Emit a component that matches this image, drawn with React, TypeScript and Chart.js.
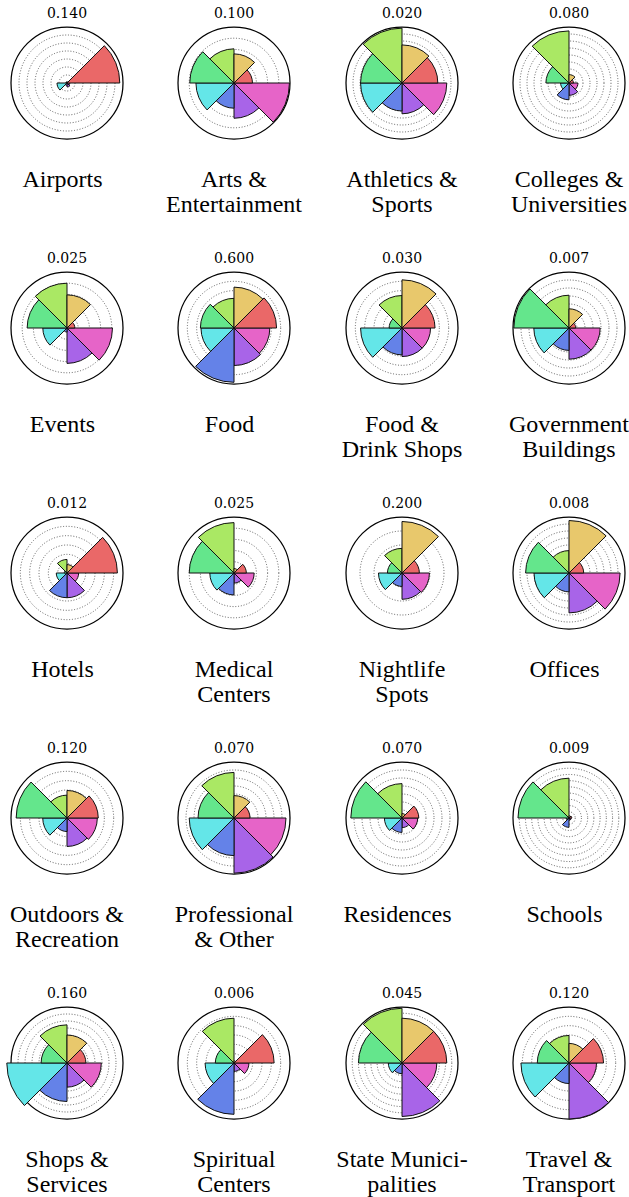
import React, { useEffect, useRef } from 'react';
import { Chart, registerables } from 'chart.js';

Chart.register(...registerables);

// Eight 45° sectors, counter-clockwise from east
const SECTORS = ['0°–45°', '45°–90°', '90°–135°', '135°–180°', '180°–225°', '225°–270°', '270°–315°', '315°–360°'];

const CATEGORY_LABELS: string[][] = [
  ['Airports'], ['Arts &', 'Entertainment'], ['Athletics &', 'Sports'], ['Colleges &', 'Universities'],
  ['Events'], ['Food'], ['Food &', 'Drink Shops'], ['Government', 'Buildings'],
  ['Hotels'], ['Medical', 'Centers'], ['Nightlife', 'Spots'], ['Offices'],
  ['Outdoors &', 'Recreation'], ['Professional', '& Other'], ['Residences'], ['Schools'],
  ['Shops &', 'Services'], ['Spiritual', 'Centers'], ['State Munici-', 'palities'], ['Travel &', 'Transport'],
];

const MAX_VALUES = [
  0.14, 0.1, 0.02, 0.08,
  0.025, 0.6, 0.03, 0.007,
  0.012, 0.025, 0.2, 0.008,
  0.12, 0.07, 0.07, 0.009,
  0.16, 0.006, 0.045, 0.12,
];

const STEP_SIZES = [
  0.02, 0.02, 0.0025, 0.01,
  0.005, 0.1, 0.005, 0.001,
  0.002, 0.005, 0.05, 0.001,
  0.02, 0.01, 0.01, 0.001,
  0.02, 0.001, 0.005, 0.02,
];

// values per sector (same order as SECTORS)
const airports = [0.132, 0.003, 0.003, 0.003, 0.025, 0.006, 0.010, 0.007];
const arts = [0.033, 0.052, 0.061, 0.079, 0.068, 0.045, 0.063, 0.099];
const athletics = [0.0128, 0.0136, 0.0196, 0.0148, 0.0148, 0.010, 0.011, 0.016];
const colleges = [0.0064, 0.012, 0.0744, 0.033, 0.012, 0.024, 0.0176, 0.0128];
const events = [0.0035, 0.0148, 0.020, 0.0178, 0.0108, 0.0018, 0.0158, 0.0203];
const food = [0.456, 0.438, 0.318, 0.36, 0.354, 0.582, 0.402, 0.384];
const foodDrink = [0.0177, 0.0258, 0.0174, 0.0069, 0.0222, 0.0144, 0.0153, 0.0153];
const government = [0.00084, 0.0024, 0.0041, 0.0069, 0.0044, 0.0028, 0.0039, 0.0039];
const hotels = [0.0108, 0.0018, 0.0029, 0.0006, 0.0023, 0.0053, 0.0053, 0.0025];
const medical = [0.0055, 0.002, 0.0225, 0.020, 0.0108, 0.0098, 0.0045, 0.009];
const nightlife = [0.062, 0.184, 0.088, 0.052, 0.084, 0.048, 0.094, 0.098];
const offices = [0.0021, 0.0075, 0.0032, 0.0062, 0.005, 0.0027, 0.0057, 0.0073];
const outdoors = [0.067, 0.059, 0.049, 0.109, 0.052, 0.029, 0.061, 0.065];
const professional = [0.020, 0.028, 0.057, 0.045, 0.056, 0.047, 0.069, 0.065];
const residences = [0.021, 0.0056, 0.043, 0.064, 0.022, 0.018, 0.012, 0.0196];
const schools = [0.00045, 0.00036, 0.0064, 0.0082, 0.00045, 0.0015, 0.00036, 0.00036];
const shops = [0.054, 0.080, 0.109, 0.074, 0.172, 0.110, 0.069, 0.098];
const spiritual = [0.0043, 0.00024, 0.0048, 0.002, 0.0031, 0.0055, 0.0009, 0.0016];
const stateMunicipalities = [0.036, 0.036, 0.044, 0.035, 0.011, 0.0086, 0.043, 0.028];
const travel = [0.074, 0.042, 0.059, 0.068, 0.103, 0.044, 0.12, 0.059];

const SERIES = [
  airports, arts, athletics, colleges,
  events, food, foodDrink, government,
  hotels, medical, nightlife, offices,
  outdoors, professional, residences, schools,
  shops, spiritual, stateMunicipalities, travel,
];

const SECTOR_COLORS = ['#EA6868', '#E8C86C', '#AAE864', '#64E68C', '#64E6E8', '#6482E8', '#A864E8', '#E664C8'];

const COL_X = [67, 234, 402, 569];
const ROW_Y = [83, 328, 573, 818, 1063];
const CANVAS = 140;
const PAD = 14;

function PolarCell({ idx }: { idx: number }) {
  const ref = useRef<HTMLCanvasElement | null>(null);
  const max = MAX_VALUES[idx];
  const step = STEP_SIZES[idx];
  useEffect(() => {
    if (!ref.current) return;
    const values = SERIES[idx];
    // Chart.js draws clockwise; start at east and reverse the CCW order
    const data = values.slice().reverse();
    const labels = SECTORS.slice().reverse();
    const colors = SECTOR_COLORS.slice().reverse();
    const isOuter = (c: any) => c.tick && Math.abs(c.tick.value - max) < max * 1e-6;
    const chart = new Chart(ref.current, {
      type: 'polarArea',
      data: {
        labels,
        datasets: [{
          data,
          backgroundColor: colors,
          borderColor: '#111',
          borderWidth: 1,
          clip: false,
        } as any],
      },
      options: {
        animation: false,
        responsive: false,
        layout: { padding: PAD },
        plugins: { legend: { display: false }, tooltip: { enabled: false }, title: { display: false } },
        scales: {
          r: {
            min: 0,
            max,
            startAngle: 90,
            z: 1,
            ticks: { display: false, stepSize: step },
            pointLabels: { display: false },
            angleLines: { display: false },
            grid: {
              circular: true,
              color: (c: any) => (isOuter(c) ? '#000' : 'rgba(50,50,50,0.85)'),
              lineWidth: (c: any) => (isOuter(c) ? 1.25 : 0.9),
            },
            border: { dash: (c: any) => (isOuter(c) ? [] : [1, 1.8]) } as any,
          } as any,
        },
      } as any,
    });
    return () => chart.destroy();
  }, [idx]);

  const cx = COL_X[idx % 4];
  const cy = ROW_Y[Math.floor(idx / 4)];
  const lines = CATEGORY_LABELS[idx];
  const single = lines.length === 1;
  return (
    <>
      <div
        style={{
          position: 'absolute', left: cx - 60, width: 120, top: cy - 78,
          textAlign: 'center', fontFamily: '"DejaVu Serif", serif', fontSize: 14, lineHeight: '16px', color: '#000',
        }}
      >
        {max.toFixed(3)}
      </div>
      <canvas
        ref={ref}
        width={CANVAS}
        height={CANVAS}
        style={{ position: 'absolute', left: cx - CANVAS / 2, top: cy - CANVAS / 2, width: CANVAS, height: CANVAS }}
      />
      <div
        style={{
          position: 'absolute', left: cx - 80, width: 160, top: cy + 84,
          textAlign: 'center', fontFamily: '"Liberation Serif", "Times New Roman", serif', fontSize: 24,
          lineHeight: '25px', color: '#000', whiteSpace: 'nowrap', boxSizing: 'border-box',
          paddingRight: single ? 9 : 0,
        }}
      >
        {lines.map((l, i) => (
          <div key={i}>{l}</div>
        ))}
      </div>
    </>
  );
}

export default function App() {
  return (
    <div
      style={{
        position: 'absolute', left: 0, top: 0, width: 629, height: 1197, overflow: 'hidden', background: '#fff',
      }}
    >
      {SERIES.map((_, i) => (
        <PolarCell key={i} idx={i} />
      ))}
    </div>
  );
}
